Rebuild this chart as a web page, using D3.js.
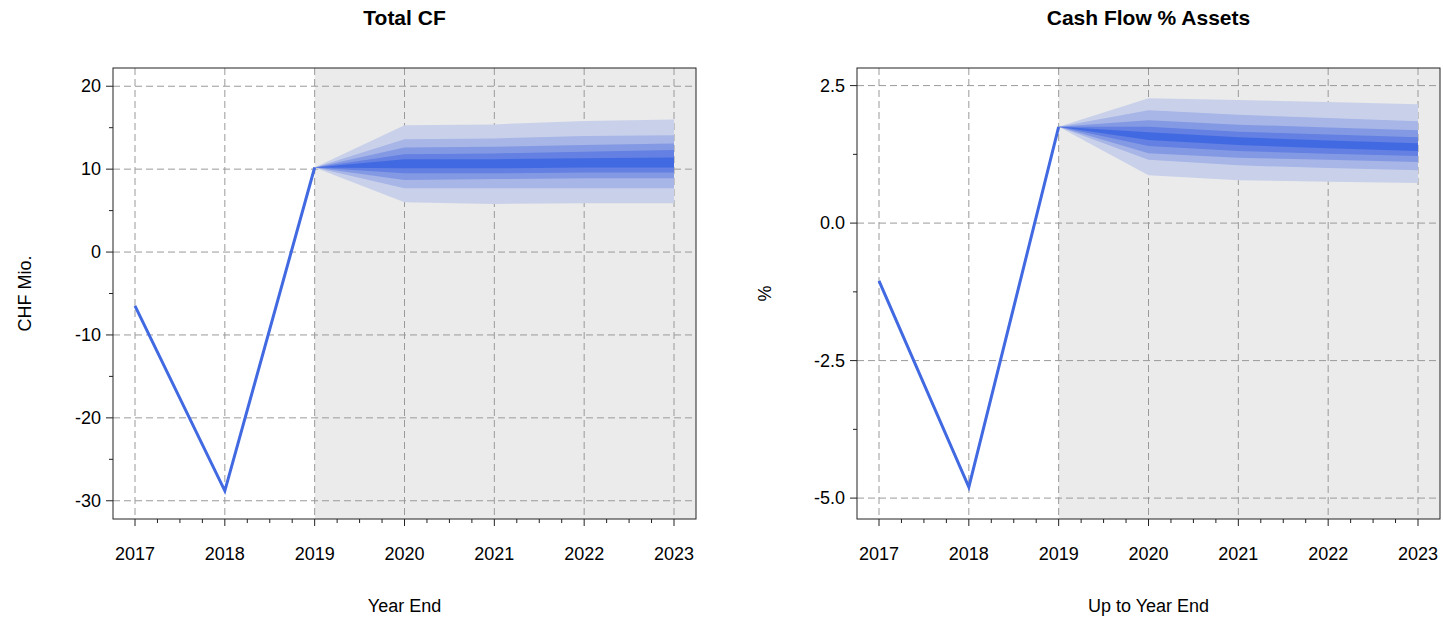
<!DOCTYPE html>
<html><head><meta charset="utf-8">
<script src="https://cdn.jsdelivr.net/npm/d3@7"></script>
<style>body{margin:0;background:#fff;font-family:"Liberation Sans",Arial,sans-serif}</style>
</head><body><svg id="c" width="1443" height="621"></svg>
<script>
// history
var years = [2017, 2018, 2019, 2020, 2021, 2022, 2023];
var histYears = [2017, 2018, 2019];
var cfHist = [-6.5, -28.8, 10.2];
var pctHist = [-1.05, -4.8, 1.75];
// fan bands: [lower, upper] per forecast year, outer -> inner
var fanYears = [2019, 2020, 2021, 2022, 2023];
var cfBands = [
  [[10.2,10.2],[6.0,15.3],[5.8,15.4],[5.9,15.8],[5.9,16.0]],
  [[10.2,10.2],[7.7,13.6],[7.7,13.7],[7.7,14.0],[7.7,14.1]],
  [[10.2,10.2],[8.7,12.6],[8.8,12.7],[8.9,12.9],[8.9,13.1]],
  [[10.2,10.2],[9.5,11.8],[9.5,11.9],[9.6,12.1],[9.6,12.3]],
  [[10.2,10.2],[10.1,11.2],[10.1,11.2],[10.2,11.3],[10.2,11.4]]
];
var pctBands = [
  [[1.75,1.75],[0.87,2.27],[0.78,2.24],[0.75,2.20],[0.73,2.16]],
  [[1.75,1.75],[1.15,2.05],[1.05,1.97],[1.00,1.91],[0.96,1.85]],
  [[1.75,1.75],[1.27,1.87],[1.19,1.79],[1.15,1.74],[1.11,1.69]],
  [[1.75,1.75],[1.40,1.75],[1.31,1.66],[1.26,1.61],[1.22,1.56]],
  [[1.75,1.75],[1.51,1.65],[1.42,1.56],[1.36,1.50],[1.31,1.45]]
];
var bandColors = ["#c9d1ea", "#a7b5e7", "#8399e3", "#6380e2", "#4169e1"];

var svg = d3.select("#c");

function panel(o) {
  var g = svg.append("g");
  var x = d3.scaleLinear().domain([2017, 2023]).range([o.x0, o.x1]);
  var y = d3.scaleLinear().domain(o.ydom).range([o.b, o.t]);
  var L = o.left, R = o.right;
  // shaded forecast area
  g.append("rect").attr("x", x(2019)).attr("y", o.t).attr("width", R - x(2019)).attr("height", o.b - o.t).attr("fill", "#ebebeb");
  // grid
  var dash = "7,4";
  years.forEach(function(v) {
    g.append("line").attr("x1", x(v)).attr("x2", x(v)).attr("y1", o.t).attr("y2", o.b)
      .attr("stroke", "#9a9a9a").attr("stroke-dasharray", dash);
  });
  o.yt.forEach(function(v) {
    g.append("line").attr("x1", L).attr("x2", R).attr("y1", y(v)).attr("y2", y(v))
      .attr("stroke", "#9a9a9a").attr("stroke-dasharray", dash);
  });
  // fan
  o.bands.forEach(function(b, i) {
    var area = d3.area().x(function(d, j) { return x(fanYears[j]); })
      .y0(function(d) { return y(d[0]); }).y1(function(d) { return y(d[1]); });
    g.append("path").attr("d", area(b)).attr("fill", bandColors[i]);
  });
  // line
  var line = d3.line().x(function(d, i) { return x(histYears[i]); }).y(function(d) { return y(d); });
  g.append("path").attr("d", line(o.hist)).attr("fill", "none").attr("stroke", "#4169e1").attr("stroke-width", 3);
  // box
  g.append("rect").attr("x", L).attr("y", o.t).attr("width", R - L).attr("height", o.b - o.t)
    .attr("fill", "none").attr("stroke", "#222").attr("stroke-width", 1);
  // x axis ticks
  var minorX = d3.range(2017, 2023.01, 0.25);
  minorX.forEach(function(v) {
    var major = Math.abs(v - Math.round(v)) < 1e-6;
    g.append("line").attr("x1", x(v)).attr("x2", x(v)).attr("y1", o.b).attr("y2", o.b + (major ? 7 : 4)).attr("stroke", "#222");
  });
  years.forEach(function(v) {
    g.append("text").attr("x", x(v)).attr("y", o.b + 41).attr("text-anchor", "middle")
      .attr("font-size", 18).text(v);
  });
  // y axis ticks
  o.ym.forEach(function(v) {
    var major = o.yt.indexOf(v) >= 0;
    g.append("line").attr("x1", L).attr("x2", L - (major ? 7 : 4)).attr("y1", y(v)).attr("y2", y(v)).attr("stroke", "#222");
  });
  o.yt.forEach(function(v, i) {
    g.append("text").attr("x", L - 12).attr("y", y(v) + 6).attr("text-anchor", "end")
      .attr("font-size", 18).text(o.yl[i]);
  });
  g.append("text").attr("x", (L + R) / 2).attr("y", 25).attr("text-anchor", "middle")
    .attr("font-size", 21).attr("font-weight", "bold").text(o.title);
  g.append("text").attr("x", (L + R) / 2).attr("y", 612).attr("text-anchor", "middle")
    .attr("font-size", 18).text(o.xlab);
  g.append("text").attr("transform", "translate(" + o.ylx + "," + (o.t + o.b) / 2 + ") rotate(-90)")
    .attr("text-anchor", "middle").attr("font-size", 18).text(o.ylab);
}

panel({x0: 135, x1: 674, left: 113, right: 696, t: 68, b: 519, ydom: [-32.2, 22.2],
  yt: [20, 10, 0, -10, -20, -30], yl: ["20", "10", "0", "-10", "-20", "-30"],
  ym: [20, 15, 10, 5, 0, -5, -10, -15, -20, -25, -30],
  bands: cfBands, hist: cfHist, title: "Total CF", xlab: "Year End", ylab: "CHF Mio.", ylx: 31});
panel({x0: 879, x1: 1418, left: 857, right: 1440, t: 68, b: 519, ydom: [-5.38, 2.82],
  yt: [2.5, 0, -2.5, -5], yl: ["2.5", "0.0", "-2.5", "-5.0"],
  ym: [2.5, 1.25, 0, -1.25, -2.5, -3.75, -5],
  bands: pctBands, hist: pctHist, title: "Cash Flow % Assets", xlab: "Up to Year End", ylab: "%", ylx: 771});
</script></body></html>
